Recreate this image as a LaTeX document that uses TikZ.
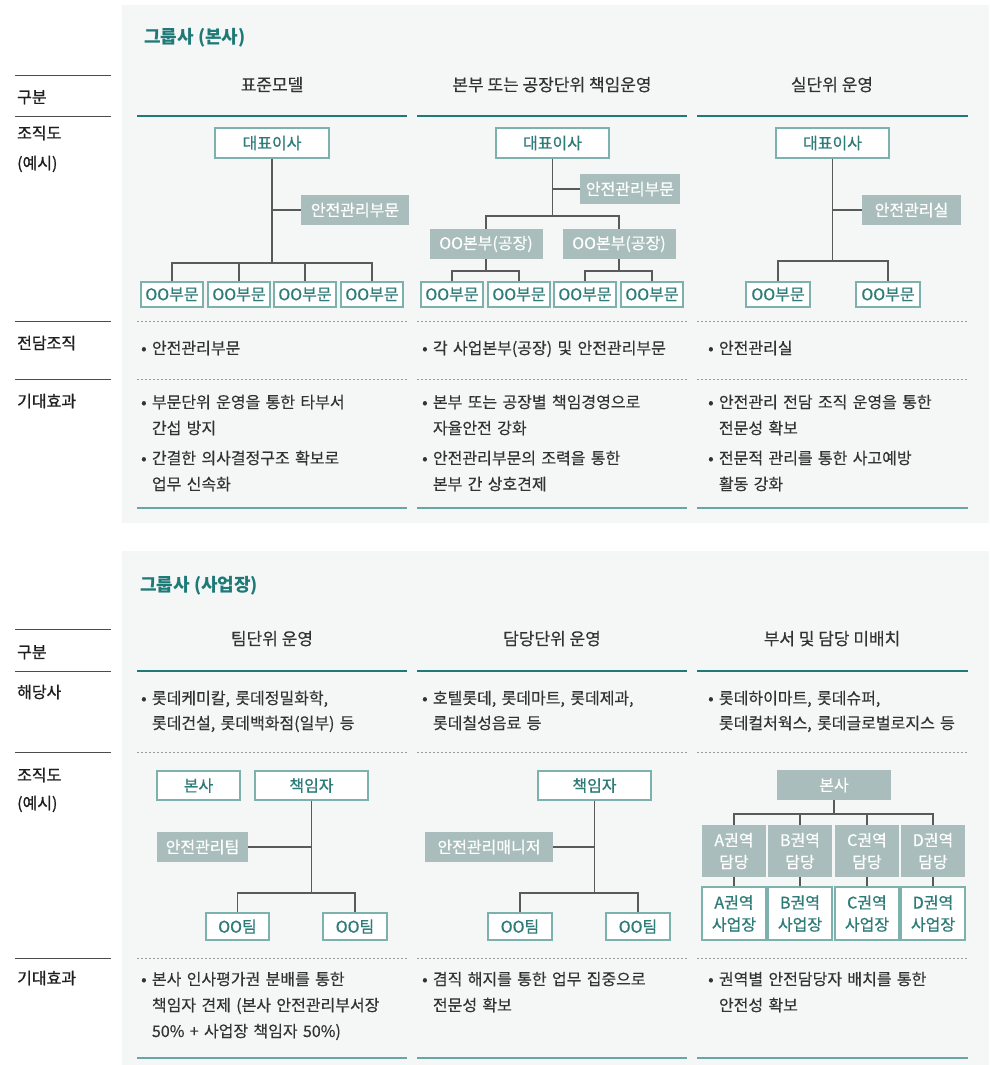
\documentclass[tikz,border=0pt]{standalone}
\usepackage{fontspec}
\setmainfont{Noto Sans CJK KR}
\newfontfamily\krbody[FakeBold=0.35]{Noto Sans CJK KR}
\newfontfamily\krmed[FakeBold=0.9]{Noto Sans CJK KR}
\usetikzlibrary{positioning,calc}
\definecolor{panelbg}{HTML}{F5F7F7}
\definecolor{tealdark}{HTML}{1F7A77}
\definecolor{teallight}{HTML}{67A7A4}
\definecolor{boxline}{HTML}{7DB1AD}
\definecolor{boxtext}{HTML}{2E7C78}
\definecolor{graybox}{HTML}{A9BEBC}
\definecolor{linkgray}{HTML}{5A5A5A}
\definecolor{dotgray}{HTML}{9C9C9C}
\definecolor{bodytext}{HTML}{333333}
\newcommand\ind{\phantom{•\ }}

\begin{document}
\begin{tikzpicture}[x=1pt,y=-1pt,
  wbox/.style={draw=boxline,line width=1.2pt,fill=white,text=boxtext,inner sep=0pt,align=center,font=\krmed\fontsize{16}{22}\selectfont},
  gbox/.style={fill=graybox,text=white,inner sep=0pt,align=center,font=\krbody\fontsize{16}{22}\selectfont},
  link/.style={draw=linkgray,line width=1.3pt},
  rowlab/.style={anchor=base west,inner sep=0pt,text=black!88,font=\krmed\fontsize{16}{20}\selectfont},
  colhead/.style={anchor=base,inner sep=0pt,text=bodytext,font=\krbody\fontsize{17}{20}\selectfont},
  title/.style={anchor=base west,inner sep=0pt,text=tealdark,font=\bfseries\fontsize{18}{20}\selectfont},
  item/.style={anchor=base west,inner sep=0pt,text=bodytext,align=left,text width=290pt,font=\krbody\fontsize{16}{26}\selectfont},
  ruleteal/.style={draw=tealdark,line width=1.2pt},
  rulebot/.style={draw=teallight,line width=1.6pt},
  ruledot/.style={draw=dotgray,line width=1pt,dash pattern=on 2pt off 2pt},
  rulelab/.style={draw=black!70,line width=1pt}]
\useasboundingbox (0,0) rectangle (989,1065);
\fill[white] (0,0) rectangle (989,1065);

% ---- 그룹사 (본사)
\fill[panelbg] (122,5) rectangle (989,523);
\node[title] (titleA) at (144,44) {그룹사 (본사)};
\foreach \y in {75,116,321,379} \draw[rulelab] (15,\y) -- (111,\y);
\node[rowlab] (labA1) at (17,103) {구분};
\node[rowlab] (labA2) at (17,139) {조직도};
\node[rowlab] (labA3) at (17,169) {(예시)};
\node[rowlab] (labA4) at (17,349) {전담조직};
\node[rowlab] (labA5) at (17,407) {기대효과};
\foreach \l/\r in {137/407,417/687,697/968} {
  \draw[ruleteal] (\l,116) -- (\r,116);
  \draw[ruledot] (\l,321) -- (\r,321);
  \draw[ruledot] (\l,379) -- (\r,379);
  \draw[rulebot] (\l,508) -- (\r,508);
}
\node[colhead] (headA1) at (272,91) {표준모델};
\node[colhead] (headA2) at (552,91) {본부 또는 공장단위 책임운영};
\node[colhead] (headA3) at (832,91) {실단위 운영};

% 표준모델
\node[wbox,minimum width=114,minimum height=30] (ceoA) at (272,143) {대표이사};
\node[gbox,minimum width=108,minimum height=30] (safeA) at (355,210) {안전관리부문};
\coordinate (busA) at (272,263);
\foreach \i/\x in {1/172,2/239,3/305,4/372}
  \node[wbox,minimum width=62,minimum height=25] (deptA\i) at (\x,294.5) {OO부문};
\draw[link] (ceoA.south) |- (safeA.west);
\draw[link] (ceoA.south) -- (busA);
\foreach \i in {1,...,4} \draw[link] (busA) -| (deptA\i.north);

% 본부 또는 공장단위
\node[wbox,minimum width=113,minimum height=30] (ceoB) at (552.5,143) {대표이사};
\node[gbox,minimum width=100,minimum height=30] (safeB) at (630,189) {안전관리부문};
\coordinate (busB) at (552.5,216);
\node[gbox,minimum width=113,minimum height=30] (hqB1) at (486,244) {OO본부(공장)};
\node[gbox,minimum width=113,minimum height=30] (hqB2) at (619,244) {OO본부(공장)};
\coordinate (busB1) at (486,271);
\coordinate (busB2) at (619,271);
\foreach \i/\x in {1/452,2/519,3/585,4/652}
  \node[wbox,minimum width=62,minimum height=25] (deptB\i) at (\x,294.5) {OO부문};
\draw[link] (ceoB.south) |- (safeB.west);
\draw[link] (ceoB.south) -- (busB) -| (hqB1.north);
\draw[link] (busB) -| (hqB2.north);
\draw[link] (hqB1.south) -- (busB1) -| (deptB1.north);
\draw[link] (busB1) -| (deptB2.north);
\draw[link] (hqB2.south) -- (busB2) -| (deptB3.north);
\draw[link] (busB2) -| (deptB4.north);

% 실단위
\node[wbox,minimum width=113,minimum height=30] (ceoC) at (832.5,143) {대표이사};
\node[gbox,minimum width=99,minimum height=30] (safeC) at (911.5,210) {안전관리실};
\coordinate (busC) at (832.5,261);
\node[wbox,minimum width=64,minimum height=25] (deptC1) at (778,294.5) {OO부문};
\node[wbox,minimum width=64,minimum height=25] (deptC2) at (888,294.5) {OO부문};
\draw[link] (ceoC.south) |- (safeC.west);
\draw[link] (ceoC.south) -- (busC) -| (deptC1.north);
\draw[link] (busC) -| (deptC2.north);

\node[item] (orgA1) at (141,354) {• 안전관리부문};
\node[item] (orgA2) at (422,354) {• 각 사업본부(공장) 및 안전관리부문};
\node[item] (orgA3) at (708,354) {• 안전관리실};
\node[item] (effA1) at (141,408) {• 부문단위 운영을 통한 타부서\\\ind 간섭 방지};
\node[item] (effA2) at (141,464) {• 간결한 의사결정구조 확보로\\\ind 업무 신속화};
\node[item] (effA3) at (422,408) {• 본부 또는 공장별 책임경영으로\\\ind 자율안전 강화};
\node[item] (effA4) at (422,464) {• 안전관리부문의 조력을 통한\\\ind 본부 간 상호견제};
\node[item] (effA5) at (708,408) {• 안전관리 전담 조직 운영을 통한\\\ind 전문성 확보};
\node[item] (effA6) at (708,464) {• 전문적 관리를 통한 사고예방\\\ind 활동 강화};

% ---- 그룹사 (사업장)
\fill[panelbg] (122,551) rectangle (989,1065);
\node[title] (titleB) at (140,591) {그룹사 (사업장)};
\foreach \y in {629,671,752,958} \draw[rulelab] (15,\y) -- (111,\y);
\node[rowlab] (labB1) at (17,658) {구분};
\node[rowlab] (labB2) at (17,698) {해당사};
\node[rowlab] (labB3) at (17,781) {조직도};
\node[rowlab] (labB4) at (17,809) {(예시)};
\node[rowlab] (labB5) at (17,984) {기대효과};
\foreach \l/\r in {137/407,417/687,697/968} {
  \draw[ruleteal] (\l,671) -- (\r,671);
  \draw[ruledot] (\l,752) -- (\r,752);
  \draw[ruledot] (\l,958) -- (\r,958);
  \draw[rulebot] (\l,1058) -- (\r,1058);
}
\node[colhead] (headB1) at (272,645) {팀단위 운영};
\node[colhead] (headB2) at (552,645) {담당단위 운영};
\node[colhead] (headB3) at (832,645) {부서 및 담당 미배치};

\node[item,font=\krbody\fontsize{16}{25}\selectfont] (coA1) at (141,704) {• 롯데케미칼, 롯데정밀화학,\\\ind 롯데건설, 롯데백화점(일부) 등};
\node[item,font=\krbody\fontsize{16}{25}\selectfont] (coA2) at (422,704) {• 호텔롯데, 롯데마트, 롯데제과,\\\ind 롯데칠성음료 등};
\node[item,font=\krbody\fontsize{16}{25}\selectfont] (coA3) at (708,704) {• 롯데하이마트, 롯데슈퍼,\\\ind 롯데컬처웍스, 롯데글로벌로지스 등};

% 팀단위
\node[wbox,minimum width=83,minimum height=29] (hoD) at (198.5,785.5) {본사};
\node[wbox,minimum width=113,minimum height=29] (chiefD) at (311.5,785.5) {책임자};
\node[gbox,minimum width=91,minimum height=30] (safeD) at (202.5,847) {안전관리팀};
\coordinate (busD) at (311.5,893);
\node[wbox,minimum width=63,minimum height=27] (teamD1) at (237.5,926.5) {OO팀};
\node[wbox,minimum width=64,minimum height=27] (teamD2) at (355,926.5) {OO팀};
\draw[link] (chiefD.south) |- (safeD.east);
\draw[link] (chiefD.south) -- (busD) -| (teamD1.north);
\draw[link] (busD) -| (teamD2.north);

% 담당단위
\node[wbox,minimum width=113,minimum height=29] (chiefE) at (594.5,785.5) {책임자};
\node[gbox,minimum width=128,minimum height=30] (safeE) at (489,847) {안전관리매니저};
\coordinate (busE) at (594.5,893);
\node[wbox,minimum width=64,minimum height=27] (teamE1) at (520,926.5) {OO팀};
\node[wbox,minimum width=64,minimum height=27] (teamE2) at (638,926.5) {OO팀};
\draw[link] (chiefE.south) |- (safeE.east);
\draw[link] (chiefE.south) -- (busE) -| (teamE1.north);
\draw[link] (busE) -| (teamE2.north);

% 미배치
\node[gbox,minimum width=114,minimum height=30] (hoF) at (834,785) {본사};
\coordinate (busF) at (834,814);
\draw[link] (hoF.south) -- (busF);
\foreach \i/\x/\lt in {1/734/A,2/800/B,3/867/C,4/933/D} {
  \node[gbox,minimum width=64,minimum height=52] (regF\i) at (\x,851) {\lt{}권역\\담당};
  \node[wbox,minimum width=64,minimum height=53] (siteF\i) at (\x,913.5) {\lt{}권역\\사업장};
  \draw[link] (busF) -| (regF\i.north);
  \draw[link] (regF\i.south) -- (siteF\i.north);
}

\node[item] (effB1) at (141,985) {• 본사 인사평가권 분배를 통한\\\ind 책임자 견제 (본사 안전관리부서장\\\ind 50\% + 사업장 책임자 50\%)};
\node[item] (effB2) at (422,985) {• 겸직 해지를 통한 업무 집중으로\\\ind 전문성 확보};
\node[item] (effB3) at (708,985) {• 권역별 안전담당자 배치를 통한\\\ind 안전성 확보};
\end{tikzpicture}
\end{document}
